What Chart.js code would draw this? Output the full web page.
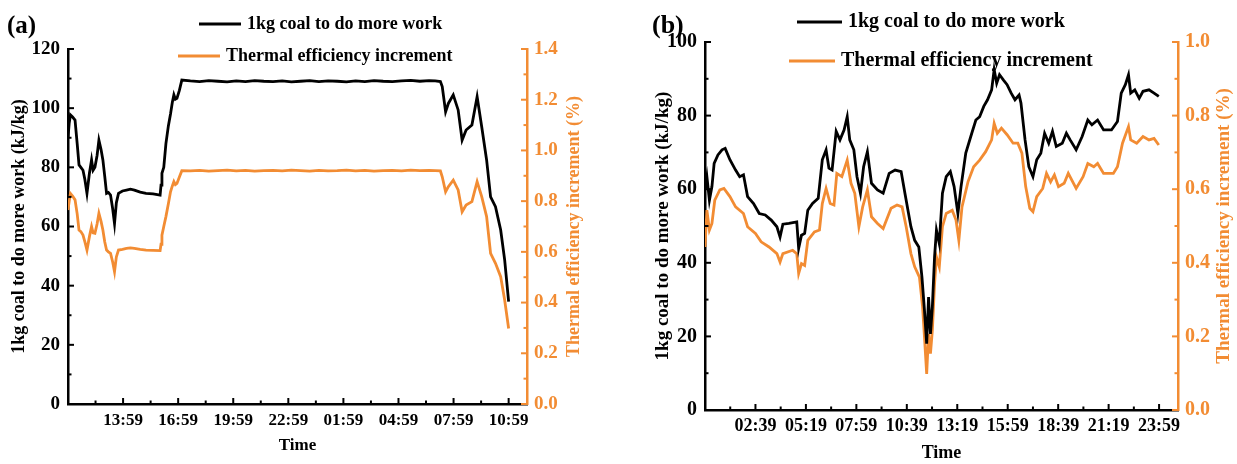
<!DOCTYPE html>
<html>
<head>
<meta charset="utf-8">
<script src="https://cdn.jsdelivr.net/npm/chart.js@4.4.0/dist/chart.umd.min.js"></script>
<style>
body { margin: 0; background: #fff; }
#wrap { position: relative; width: 1237px; height: 464px; }
#chartA { position: absolute; left: 0; top: 0; }
#chartB { position: absolute; left: 620px; top: 0; }
</style>
</head>
<body>
<div id="wrap">
  <canvas id="chartA" width="620" height="464"></canvas>
  <canvas id="chartB" width="617" height="464"></canvas>
</div>
<script>
// ---- panel (a): minutes after 10:59 ----
const aTime = [0, 4, 8, 15, 23, 30, 36, 42, 49, 55, 62, 70, 77, 82, 88, 95, 101, 108, 114, 120,
  126, 132, 139, 146, 152, 158, 165, 178, 191, 204, 217, 236, 255, 278, 301, 304, 307, 313, 320, 328,
  335, 341, 346, 351, 356, 364, 372,
  400, 430, 460, 490, 520, 550, 580, 610, 640, 670, 700, 730, 760, 790, 820, 850, 880, 910, 940, 970,
  1000, 1030, 1060, 1090, 1120, 1150, 1180, 1200, 1217,
  1223, 1234, 1243, 1259, 1275, 1288, 1301, 1320, 1337, 1352, 1368, 1381, 1397, 1414, 1427, 1440];
const aCoal = [90, 95, 97.7, 97, 96, 88, 80.8, 80, 79, 76, 71.2, 78, 82.5, 79, 80, 84, 89.2, 86, 82.5, 77,
  71.2, 71.5, 70.6, 66, 61, 68, 71.2, 72, 72.3, 72.6, 72.3, 71.6, 71.2, 71, 70.6, 74, 78, 80, 88, 94,
  98, 102, 104.5, 103, 103.3, 106, 109.5,
  109.2, 109.0, 109.3, 109.1, 108.9, 109.2, 109.0, 109.3, 109.1, 109.0, 109.2, 108.9, 109.1, 109.3, 109.0,
  109.2, 109.1, 108.9, 109.2, 109.0, 109.3, 109.1, 109.0, 109.2, 109.4, 109.1, 109.3, 109.2, 109.0,
  107.3, 98.8, 101.6, 104.5, 99.4, 89.2, 92.6, 94.3, 103.9, 93.7, 82.5, 70, 66.7, 58.8, 48.7, 34.6];
const aEff = [0.765, 0.80, 0.83, 0.82, 0.805, 0.75, 0.686, 0.68, 0.666, 0.64, 0.607, 0.66, 0.70, 0.675, 0.673, 0.71, 0.752, 0.72, 0.686, 0.64,
  0.607, 0.60, 0.594, 0.56, 0.522, 0.58, 0.607, 0.61, 0.614, 0.616, 0.614, 0.61, 0.607, 0.606, 0.605, 0.63, 0.666, 0.70, 0.739, 0.79,
  0.837, 0.86, 0.877, 0.865, 0.87, 0.895, 0.92,
  0.919, 0.921, 0.918, 0.920, 0.922, 0.919, 0.921, 0.918, 0.920, 0.921, 0.919, 0.922, 0.920, 0.918, 0.921,
  0.919, 0.920, 0.922, 0.919, 0.921, 0.918, 0.920, 0.921, 0.919, 0.922, 0.920, 0.921, 0.920, 0.919,
  0.896, 0.837, 0.857, 0.883, 0.844, 0.758, 0.785, 0.798, 0.877, 0.818, 0.739, 0.594, 0.555, 0.502, 0.41, 0.298];

// ---- panel (b): minutes after 23:59 ----
const bTimeCoal = [0, 6, 14, 22, 29, 41, 54, 64, 79, 97, 110, 122, 135, 154, 172, 191, 210, 228, 238, 247,
  266, 291, 297, 306, 316, 326, 341, 359, 372, 384, 393, 403, 416, 428, 441, 451, 459, 472, 482, 493,
  503, 515, 528, 547, 565, 584, 603, 622, 634, 653, 665, 678, 688, 696, 703, 709, 715, 721, 728, 734,
  743, 753, 765, 778, 790, 802, 812, 827, 846, 859, 871, 884, 896, 909, 917, 925, 934, 946, 958, 971,
  983, 996, 1002, 1015, 1027, 1040, 1052, 1065, 1077, 1090, 1102, 1114, 1133, 1146, 1158, 1177, 1196, 1214, 1227, 1245,
  1264, 1289, 1308, 1320, 1333, 1343, 1350, 1363, 1377, 1389, 1408, 1424, 1439];
const bCoal = [60, 63.4, 57, 60.7, 67, 69.3, 70.7, 71.1, 68, 65.2, 63.4, 63.9, 58, 56.1, 53.4, 53, 51.6, 49.8, 47, 50.5,
  50.7, 51.1, 43.9, 47.5, 48, 54.3, 56.1, 57.5, 68, 70.7, 65.7, 65.2, 75.7, 73.4, 76.1, 79.7, 73.4, 70.7, 63.4, 58.9,
  66.1, 70.2, 61.6, 59.8, 58.9, 64.3, 65.2, 64.8, 58.9, 49.8, 46.1, 44.3, 36.1, 27.1, 18, 30.7, 20.7, 28, 41.6, 48.9,
  45.2, 58.9, 63.4, 64.8, 60.7, 53.4, 60.7, 69.8, 75.2, 78.8, 79.7, 82.5, 84.3, 87, 92.5, 88.8, 91.1, 89.7, 88.4, 86.1,
  84.3, 85.6, 83.4, 73.4, 66.1, 63.4, 68, 69.8, 75.2, 72.5, 75.7, 71.6, 72.5, 75.2, 73.4, 70.7, 74.3, 78.8, 77.5, 78.8,
  76.1, 76.1, 78.4, 86.1, 88.4, 91.1, 86.1, 87, 84.7, 86.6, 87, 86.1, 85.2];
const bTimeEff = [0, 6, 14, 22, 31, 47, 60, 79, 97, 122, 135, 160, 178, 203, 228, 238, 247, 278, 291, 297,
  306, 316, 326, 347, 363, 372, 384, 397, 409, 418, 434, 451, 463, 475, 488, 500, 515, 528, 547, 565,
  590, 609, 625, 638, 653, 665, 680, 690, 696, 703, 709, 715, 721, 728, 734, 743, 753, 765, 784, 796,
  805, 815, 834, 852, 871, 890, 909, 917, 927, 940, 958, 977, 992, 1005, 1017, 1030, 1040, 1052, 1071, 1083,
  1096, 1108, 1121, 1139, 1152, 1177, 1199, 1214, 1233, 1245, 1264, 1295, 1308, 1324, 1343, 1350, 1369, 1389, 1408, 1424,
  1439];
const bEff = [0.443, 0.543, 0.489, 0.507, 0.57, 0.598, 0.602, 0.58, 0.552, 0.534, 0.498, 0.48, 0.457, 0.443, 0.425, 0.402, 0.425, 0.434, 0.425, 0.371,
  0.398, 0.393, 0.461, 0.484, 0.489, 0.561, 0.602, 0.561, 0.557, 0.643, 0.634, 0.679, 0.616, 0.589, 0.498, 0.552, 0.598, 0.525, 0.507, 0.493,
  0.548, 0.557, 0.552, 0.498, 0.425, 0.389, 0.361, 0.28, 0.198, 0.098, 0.207, 0.153, 0.216, 0.343, 0.416, 0.389, 0.498, 0.534, 0.543, 0.516,
  0.461, 0.552, 0.62, 0.661, 0.679, 0.702, 0.734, 0.779, 0.752, 0.766, 0.748, 0.725, 0.725, 0.698, 0.607, 0.548, 0.539, 0.58, 0.602, 0.643,
  0.62, 0.639, 0.607, 0.616, 0.643, 0.602, 0.634, 0.67, 0.661, 0.67, 0.643, 0.643, 0.661, 0.725, 0.77, 0.734, 0.725, 0.743, 0.734, 0.738,
  0.72];

const coalLabel = '1kg coal to do more work';
const effLabel = 'Thermal efficiency increment';
const coalTitle = '1kg coal to do more work (kJ/kg)';
const effTitle = 'Thermal efficiency increment (%)';
const BLACK = '#000000';
const ORANGE = '#F28C33';
const FONT = '"Liberation Serif", "Times New Roman", serif';

function fmt(min) {
    const m = ((min % 1440) + 1440) % 1440;
    return String(Math.floor(m / 60)).padStart(2, '0') + ':' + String(m % 60).padStart(2, '0');
}

function zip(xs, ys) {
    return xs.map((x, i) => ({ x: x, y: ys[i] }));
}

// inward tick marks, drawn from the scales
const inwardTicks = {
    id: 'inwardTicks',
    afterDatasetsDraw(chart, args, opts) {
        const ctx = chart.ctx;
        ctx.save();
        Object.values(chart.scales).forEach(scale => {
            const steps = opts[scale.id];
            if (!steps) return;
            ctx.strokeStyle = scale.options.border.color;
            ctx.lineWidth = 2;
            scale.ticks.forEach(t => {
                const r1 = t.value / steps[0];
                if (Math.abs(r1 - Math.round(r1)) > 1e-6) return;
                const r2 = t.value / steps[1];
                const len = Math.abs(r2 - Math.round(r2)) < 1e-6 ? 6 : 3.5;
                const p = scale.getPixelForValue(t.value);
                ctx.beginPath();
                if (scale.axis === 'x') {
                    ctx.moveTo(p, scale.top);
                    ctx.lineTo(p, scale.top - len);
                } else if (scale.position === 'left') {
                    ctx.moveTo(scale.right, p);
                    ctx.lineTo(scale.right + len, p);
                } else {
                    ctx.moveTo(scale.left, p);
                    ctx.lineTo(scale.left - len, p);
                }
                ctx.stroke();
            });
        });
        ctx.restore();
    }
};

function vText(ctx, text, x, y, color) {
    ctx.save();
    ctx.translate(x, y);
    ctx.rotate(-Math.PI / 2);
    ctx.textAlign = 'center';
    ctx.fillStyle = color;
    ctx.fillText(text, 0, 0);
    ctx.restore();
}

// panel tag, legend and the two y axis titles
const panelDecor = {
    id: 'panelDecor',
    afterDraw(chart, args, opts) {
        const ctx = chart.ctx;
        const area = chart.chartArea;
        const midY = (area.top + area.bottom) / 2;
        ctx.save();
        ctx.textBaseline = 'middle';
        ctx.fillStyle = BLACK;
        ctx.font = 'bold ' + opts.tagSize + 'px ' + FONT;
        ctx.fillText(opts.tag, opts.tagX, opts.tagY);

        ctx.font = 'bold ' + opts.size + 'px ' + FONT;
        opts.items.forEach((it, i) => {
            const ds = chart.data.datasets[i];
            ctx.strokeStyle = ds.borderColor;
            ctx.lineWidth = 3;
            ctx.beginPath();
            ctx.moveTo(it.x, it.y);
            ctx.lineTo(it.x + it.len, it.y);
            ctx.stroke();
            ctx.fillStyle = BLACK;
            ctx.fillText(ds.label, it.x + it.len + 6, it.y);
        });

        ctx.font = 'bold ' + opts.titleSize + 'px ' + FONT;
        vText(ctx, coalTitle, opts.leftTitleX, midY, BLACK);
        vText(ctx, effTitle, opts.rightTitleX, midY, ORANGE);
        ctx.restore();
    }
};

function makeChart(id, p) {
    const yFont = { family: FONT, weight: 'bold', size: p.yTickSize };
    const xFont = { family: FONT, weight: 'bold', size: p.xTickSize };
    return new Chart(document.getElementById(id), {
        type: 'line',
        data: {
            datasets: [
                { label: coalLabel, data: p.coal, borderColor: BLACK, borderWidth: 2.8, pointRadius: 0, yAxisID: 'y' },
                { label: effLabel, data: p.eff, borderColor: ORANGE, borderWidth: 2.8, pointRadius: 0, yAxisID: 'y1' }
            ]
        },
        options: {
            responsive: false,
            animation: false,
            layout: { padding: { top: p.top, left: 0, right: 0, bottom: 0 } },
            plugins: {
                legend: { display: false },
                tooltip: { enabled: false },
                inwardTicks: { x: [p.xMinor, p.xMinor * 2], y: [10, 20], y1: [0.1, 0.2] },
                panelDecor: p.decor
            },
            scales: {
                x: {
                    type: 'linear', min: 0, max: 1500,
                    grid: { display: false, drawTicks: false },
                    border: { display: true, color: BLACK, width: 2.5 },
                    ticks: {
                        stepSize: p.xMinor, includeBounds: false, autoSkip: false, maxRotation: 0, padding: 6,
                        color: BLACK, font: xFont,
                        callback: v => (v % (p.xMinor * 2) === 0 && v > 0 && v <= 1440) ? fmt(v + p.start) : ''
                    },
                    title: {
                        display: true, text: 'Time', color: BLACK,
                        font: { family: FONT, weight: 'bold', size: p.timeSize },
                        padding: { top: 0, bottom: p.timePad }
                    },
                    afterFit: s => { s.height = p.bottomH; }
                },
                y: {
                    position: 'left', min: 0, max: p.yMax,
                    grid: { display: false, drawTicks: false },
                    border: { display: true, color: BLACK, width: 2.5 },
                    ticks: {
                        stepSize: 10, autoSkip: false, padding: 8, color: BLACK, font: yFont,
                        callback: v => v % 20 === 0 ? v : ''
                    },
                    afterFit: s => { s.width = p.leftW; }
                },
                y1: {
                    position: 'right', min: 0, max: p.y1Max,
                    grid: { display: false, drawTicks: false },
                    border: { display: true, color: ORANGE, width: 2.5 },
                    ticks: {
                        stepSize: 0.1, autoSkip: false, padding: 7, color: ORANGE, font: yFont,
                        callback: v => Math.round(v * 10) % 2 === 0 ? v.toFixed(1) : ''
                    },
                    afterFit: s => { s.width = p.rightW; }
                }
            }
        },
        plugins: [inwardTicks, panelDecor]
    });
}

makeChart('chartA', {
    coal: zip(aTime, aCoal), eff: zip(aTime, aEff),
    start: 659, xMinor: 90, yMax: 120, y1Max: 1.4,
    top: 49, bottomH: 60, leftW: 68, rightW: 93,
    yTickSize: 19, xTickSize: 17, timeSize: 17, timePad: 8,
    decor: {
        tag: '(a)', tagX: 7, tagY: 27, tagSize: 25, size: 18, titleSize: 18,
        leftTitleX: 19, rightTitleX: 574,
        items: [{ x: 199, y: 24, len: 42 }, { x: 178, y: 56, len: 42 }]
    }
});

makeChart('chartB', {
    coal: zip(bTimeCoal, bCoal), eff: zip(bTimeEff, bEff),
    start: 1439, xMinor: 80, yMax: 100, y1Max: 1.0,
    top: 42, bottomH: 54, leftW: 85, rightW: 59,
    yTickSize: 20, xTickSize: 18, timeSize: 18, timePad: 0,
    decor: {
        tag: '(b)', tagX: 32, tagY: 26, tagSize: 26, size: 20, titleSize: 19,
        leftTitleX: 43, rightTitleX: 604,
        items: [{ x: 177, y: 22, len: 45 }, { x: 169, y: 61, len: 46 }]
    }
});
</script>
